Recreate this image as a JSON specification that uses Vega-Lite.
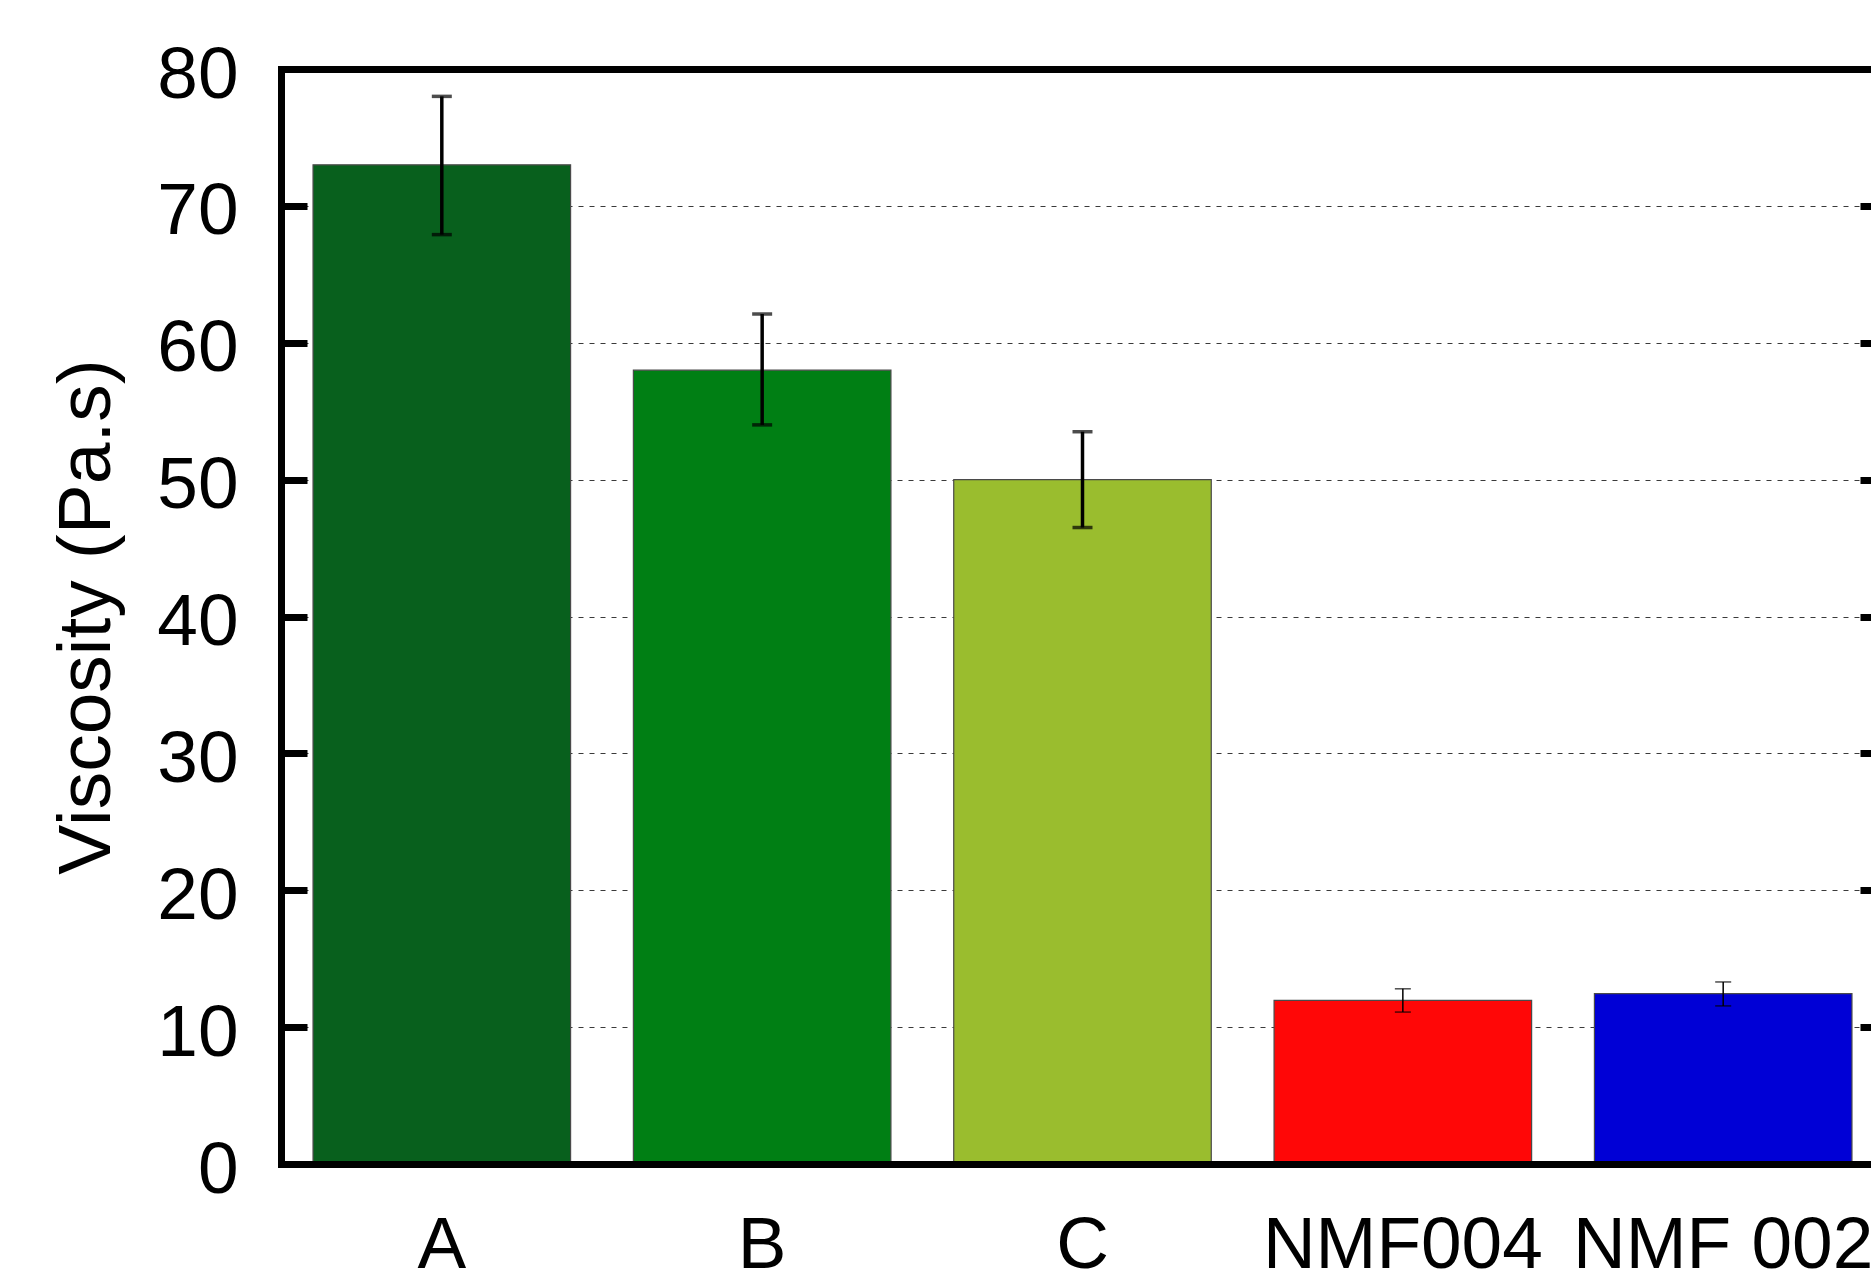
{
  "$schema": "https://vega.github.io/schema/vega-lite/v6.json",
  "width": 1590,
  "height": 1095,
  "autosize": {"type": "none"},
  "padding": {"left": 281, "top": 69, "right": 0, "bottom": 107},
  "background": "white",
  "config": {
    "view": {"stroke": null},
    "font": "Liberation Sans",
    "axis": {
      "labelFont": "Liberation Sans",
      "titleFont": "Liberation Sans",
      "labelFontSize": 73,
      "titleFontSize": 75,
      "labelColor": "black",
      "titleColor": "black",
      "titleFontWeight": "normal",
      "domainColor": "black",
      "tickColor": "black",
      "labelLimit": 0
    }
  },
  "data": {
    "values": [
      {"sample": "A", "viscosity": 73.0, "low": 67.9, "high": 78.0},
      {"sample": "B", "viscosity": 58.0, "low": 54.0, "high": 62.1},
      {"sample": "C", "viscosity": 50.0, "low": 46.5, "high": 53.5},
      {"sample": "NMF004", "viscosity": 11.95, "low": 11.1, "high": 12.8},
      {"sample": "NMF 002", "viscosity": 12.45, "low": 11.55, "high": 13.3}
    ]
  },
  "resolve": {"axis": {"x": "independent", "y": "independent"}},
  "layer": [
    {
      "mark": {"type": "bar", "stroke": "#4a4a4a", "strokeWidth": 1.2},
      "encoding": {
        "x": {
          "field": "sample", "type": "nominal", "sort": null,
          "scale": {"range": [0, 1603], "paddingInner": 0.196, "paddingOuter": 0.1},
          "axis": {"orient": "top", "title": null, "labels": false, "ticks": false, "grid": false,
                   "domain": true, "domainWidth": 7, "domainCap": "square", "zindex": 1}
        },
        "y": {
          "field": "viscosity", "type": "quantitative",
          "scale": {"domain": [0, 80], "nice": false, "zero": true},
          "axis": {"orient": "left", "title": null, "labels": false, "ticks": false, "domain": false,
                   "grid": true, "gridDash": [5, 6], "gridColor": "#3a3a3a", "gridWidth": 1,
                   "values": [10, 20, 30, 40, 50, 60, 70], "zindex": 0}
        },
        "color": {
          "field": "sample", "type": "nominal", "legend": null,
          "scale": {"domain": ["A", "B", "C", "NMF004", "NMF 002"],
                    "range": ["#08601D", "#007F14", "#9ABD2E", "#FF0707", "#0000D6"]}
        }
      }
    },
    {
      "transform": [{"filter": {"field": "sample", "oneOf": ["A", "B", "C"]}}],
      "mark": {"type": "rule", "color": "black", "strokeWidth": 3.5},
      "encoding": {
        "x": {
          "field": "sample", "type": "nominal", "sort": null,
          "axis": {"orient": "bottom", "title": null, "labelAngle": 0, "ticks": false, "grid": false,
                   "domain": true, "domainWidth": 7, "domainCap": "square", "labelPadding": 45, "zindex": 1}
        },
        "y": {
          "field": "low", "type": "quantitative",
          "axis": {"orient": "left", "title": "Viscosity (Pa.s)", "grid": false, "domain": true,
                   "domainWidth": 7, "domainCap": "square", "ticks": true, "tickSize": -26, "tickWidth": 7,
                   "values": [0, 10, 20, 30, 40, 50, 60, 70, 80], "labelPadding": 69, "labelOffset": 6,
                   "titlePadding": 31, "zindex": 1}
        },
        "y2": {"field": "high"}
      }
    },
    {
      "transform": [{"filter": {"field": "sample", "oneOf": ["NMF004", "NMF 002"]}}],
      "mark": {"type": "rule", "color": "black", "strokeWidth": 1.5},
      "encoding": {
        "x": {"field": "sample", "type": "nominal", "sort": null, "axis": null},
        "y": {"field": "low", "type": "quantitative", "axis": null},
        "y2": {"field": "high"}
      }
    },
    {
      "transform": [{"filter": {"field": "sample", "oneOf": ["A", "B", "C"]}}],
      "mark": {"type": "tick", "color": "black", "size": 20, "thickness": 3.5},
      "encoding": {
        "x": {"field": "sample", "type": "nominal", "sort": null, "axis": null},
        "y": {
          "field": "high", "type": "quantitative",
          "axis": {"orient": "right", "title": null, "labels": false, "grid": false, "domain": false,
                   "ticks": true, "tickSize": -24, "tickWidth": 7, "offset": 13,
                   "values": [10, 20, 30, 40, 50, 60, 70], "zindex": 1}
        }
      }
    },
    {
      "transform": [{"filter": {"field": "sample", "oneOf": ["A", "B", "C"]}}],
      "mark": {"type": "tick", "color": "black", "size": 20, "thickness": 3.5},
      "encoding": {
        "x": {"field": "sample", "type": "nominal", "sort": null, "axis": null},
        "y": {"field": "low", "type": "quantitative", "axis": null}
      }
    },
    {
      "transform": [{"filter": {"field": "sample", "oneOf": ["NMF004", "NMF 002"]}}],
      "mark": {"type": "tick", "color": "black", "size": 16, "thickness": 1.5},
      "encoding": {
        "x": {"field": "sample", "type": "nominal", "sort": null, "axis": null},
        "y": {"field": "high", "type": "quantitative", "axis": null}
      }
    },
    {
      "transform": [{"filter": {"field": "sample", "oneOf": ["NMF004", "NMF 002"]}}],
      "mark": {"type": "tick", "color": "black", "size": 16, "thickness": 1.5},
      "encoding": {
        "x": {"field": "sample", "type": "nominal", "sort": null, "axis": null},
        "y": {"field": "low", "type": "quantitative", "axis": null}
      }
    }
  ]
}
